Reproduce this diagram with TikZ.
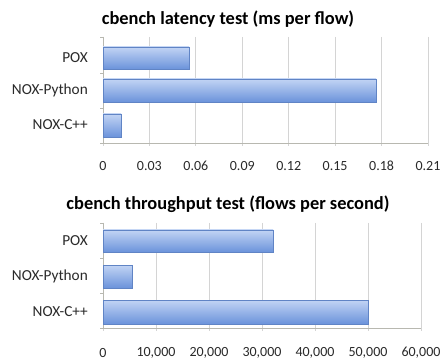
\documentclass[tikz,border=0pt]{standalone}
\usepackage{fontspec}
\setmainfont{Carlito}
\definecolor{barlight}{HTML}{C2D4F4}
\definecolor{bardark}{HTML}{6B93DB}
\definecolor{gridgray}{HTML}{D4D4D4}
\definecolor{axisgray}{HTML}{B8B8B0}
\definecolor{labelgray}{HTML}{2A2A2A}
\tikzset{
  bar/.style={top color=barlight, bottom color=bardark, draw=bardark!90!black, line width=0.2pt},
  gridline/.style={draw=gridgray, line width=0.9pt},
  axisline/.style={draw=axisgray, line width=0.9pt},
  catlabel/.style={anchor=east, text=labelgray, font=\fontsize{15.3}{17}\selectfont, inner sep=0pt},
  ticklabel/.style={text=labelgray, font=\fontsize{14}{16}\selectfont, inner sep=0pt},
  charttitle/.style={text=black, font=\bfseries\fontsize{18.4}{21}\selectfont, inner sep=0pt}
}
\begin{document}
\begin{tikzpicture}[x=1pt, y=-1pt]
    \useasboundingbox[fill=white] (0,0) rectangle (444,363);

    % latency chart
    \node[charttitle] (lattitle) at (228,19) {cbench latency test (ms per flow)};
    \foreach \gx/\gv in {103/0, 149.4/0.03, 195.9/0.06, 242.3/0.09, 288.7/0.12, 335.1/0.15, 381.6/0.18, 428/0.21}{
        \draw[gridline] (\gx,37) -- (\gx,146);
        \node[ticklabel] at (\gx,166) {\gv};
    }
    \draw[axisline] (103,37) -- (103,143) -- (428,143);
    \draw[axisline] (100,37) -- (103,37) (100,73) -- (103,73) (100,108) -- (103,108) (100,143) -- (103,143);
    \draw[bar] (103,47) rectangle (189,69);
    \draw[bar] (103,79) rectangle (376,102);
    \draw[bar] (103,114) rectangle (121,137);
    \node[catlabel] (latpox) at (88,58) {POX};
    \node[catlabel] (latpy) at (88,90) {NOX-Python};
    \node[catlabel] (latcpp) at (88,125) {NOX-C++};

    % throughput chart
    \node[charttitle] (thrtitle) at (228,204) {cbench throughput test (flows per second)};
    \foreach \gx/\gv in {103/0, 156/{10,000}, 209/{20,000}, 262/{30,000}, 315/{40,000}, 368/{50,000}, 421/{60,000}}{
        \draw[gridline] (\gx,223) -- (\gx,331);
        \node[ticklabel] at (\gx,353) {\gv};
    }
    \draw[axisline] (103,223) -- (103,328) -- (421,328);
    \draw[axisline] (100,223) -- (103,223) (100,258) -- (103,258) (100,293) -- (103,293) (100,328) -- (103,328);
    \draw[bar] (103,230) rectangle (273,252);
    \draw[bar] (103,265) rectangle (132,288);
    \draw[bar] (103,300) rectangle (368,324);
    \node[catlabel] (thrpox) at (88,241) {POX};
    \node[catlabel] (thrpy) at (88,276) {NOX-Python};
    \node[catlabel] (thrcpp) at (88,312) {NOX-C++};
\end{tikzpicture}
\end{document}
